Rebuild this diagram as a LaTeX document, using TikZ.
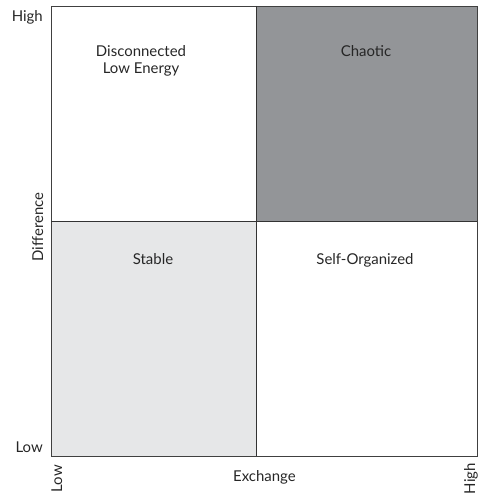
\documentclass[tikz,border=0pt]{standalone}
\usepackage{fontspec}
\setmainfont{Lato}
\usepackage{tikz}

\definecolor{chaosgray}{RGB}{147,149,152}
\definecolor{stablegray}{RGB}{230,231,232}

\begin{document}
\begin{tikzpicture}[x=1bp, y=-1bp,
        quadlabel/.style={font=\fontsize{15}{16.5}\selectfont, align=center, text=black!85, inner sep=0pt},
        axislabel/.style={font=\fontsize{15}{16.5}\selectfont, text=black!85, inner sep=0pt}]

        \useasboundingbox (0,0) rectangle (484,496);

        % shaded quadrants
        \fill[chaosgray] (256,6) rectangle (477,221);
        \fill[stablegray] (51,221) rectangle (256,456);

        \draw[thin, black!75]
            (51,6) rectangle (477,456);
        \draw[thick, black!80]
            (256,6) -- (256,456)
            (51,221) -- (477,221);

        % base of a two-line node sits on its last line
        \node[quadlabel, anchor=base] (dis) at (141,73.3) {Disconnected\\Low Energy};
        \node[quadlabel, anchor=base] (cha) at (366,56.7) {Chaotic};
        \node[quadlabel, anchor=base] (sta) at (153,264) {Stable};
        \node[quadlabel, anchor=base] (org) at (365,264) {Self-Organized};

        \node[axislabel, anchor=base east] (yhi) at (43,22) {High};
        \node[axislabel, anchor=base east] (ylo) at (43,452) {Low};
        \node[axislabel, rotate=90, anchor=base] (dif) at (43,227) {Difference};

        \node[axislabel, rotate=90, anchor=base east] (xlo) at (62,465) {Low};
        \node[axislabel, rotate=90, anchor=base east] (xhi) at (475,463) {High};
        \node[axislabel, anchor=base] (exc) at (264.5,481) {Exchange};

\end{tikzpicture}
\end{document}
